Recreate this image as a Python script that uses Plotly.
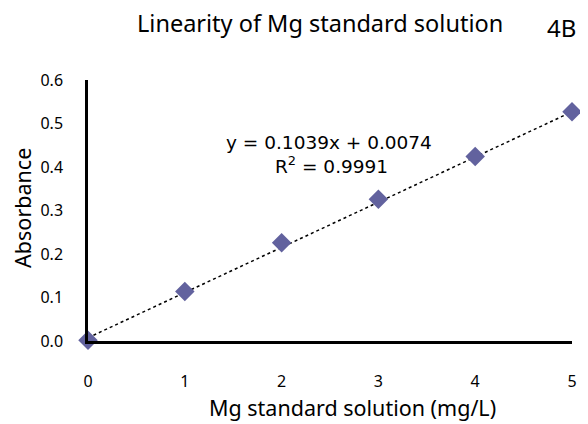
import plotly.graph_objects as go

concentration = [0, 1, 2, 3, 4, 5]
absorbance = [0.002, 0.114, 0.226, 0.326, 0.424, 0.527]
slope = 0.1039
intercept = 0.0074
equation_text = "y = 0.1039x + 0.0074"
r2_text = "R<sup>2</sup> = 0.9991"
y_ticks = [0, 0.1, 0.2, 0.3, 0.4, 0.5, 0.6]
y_tick_labels = ["0.0", "0.1", "0.2", "0.3", "0.4", "0.5", "0.6"]
x_ticks = [0, 1, 2, 3, 4, 5]

FONT = "Noto Sans"
EQ_FONT = "DejaVu Sans"
trend_x = [concentration[0], concentration[-1]]
trend_y = [slope * x + intercept for x in trend_x]

fig = go.Figure()
fig.add_trace(go.Scatter(
    x=trend_x, y=trend_y, mode="lines",
    line=dict(color="black", width=1.5, dash="dot"),
    hoverinfo="skip", showlegend=False, cliponaxis=False,
))
fig.add_trace(go.Scatter(
    x=concentration, y=absorbance, mode="markers",
    marker=dict(symbol="diamond", size=15, color="#62629e"),
    showlegend=False, cliponaxis=False,
))

fig.update_layout(
    width=580, height=416,
    margin=dict(l=80, r=16, t=72, b=83),
    paper_bgcolor="white", plot_bgcolor="white",
    font=dict(family=FONT, color="black"),
    showlegend=False,
    xaxis=dict(
        range=[0, 5], tickvals=x_ticks, showgrid=False, zeroline=False,
        showline=True, linecolor="black", linewidth=2.5,
        ticks="", ticklabelstandoff=24,
        tickfont=dict(size=16, family=FONT),
    ),
    yaxis=dict(
        range=[0, 0.6], tickvals=y_ticks, ticktext=y_tick_labels,
        showgrid=False, zeroline=False,
        showline=True, linecolor="black", linewidth=2.5,
        ticks="", ticklabelstandoff=19,
        tickfont=dict(size=16, family=FONT),
    ),
    annotations=[
        dict(text="Linearity of Mg standard solution", xref="paper", yref="paper",
             x=0.479, y=1.0, yshift=57, xanchor="center", yanchor="middle",
             showarrow=False, font=dict(size=23.5, family=FONT)),
        dict(text="4B", xref="paper", yref="paper", x=0.978, y=1.0, yshift=53,
             xanchor="center", yanchor="middle", showarrow=False, font=dict(size=24, family=FONT)),
        dict(text="Mg standard solution (mg/L)", xref="paper", yref="paper",
             x=0.5475, y=0.0, yshift=-66, xanchor="center", yanchor="middle",
             showarrow=False, font=dict(size=21.5, family=FONT)),
        dict(text="Absorbance", xref="paper", yref="paper", textangle=-90,
             x=0.0, xshift=-65, y=0.51, xanchor="center", yanchor="middle",
             showarrow=False, font=dict(size=21.5, family=FONT)),
        dict(text=equation_text, xref="x", yref="y", x=2.49, y=0.456,
             xanchor="center", yanchor="middle", showarrow=False, font=dict(size=18.5, family=EQ_FONT)),
        dict(text=r2_text, xref="x", yref="y", x=2.52, y=0.405,
             xanchor="center", yanchor="middle", showarrow=False, font=dict(size=18.5, family=EQ_FONT)),
    ],
)

fig.write_html("out.html")
